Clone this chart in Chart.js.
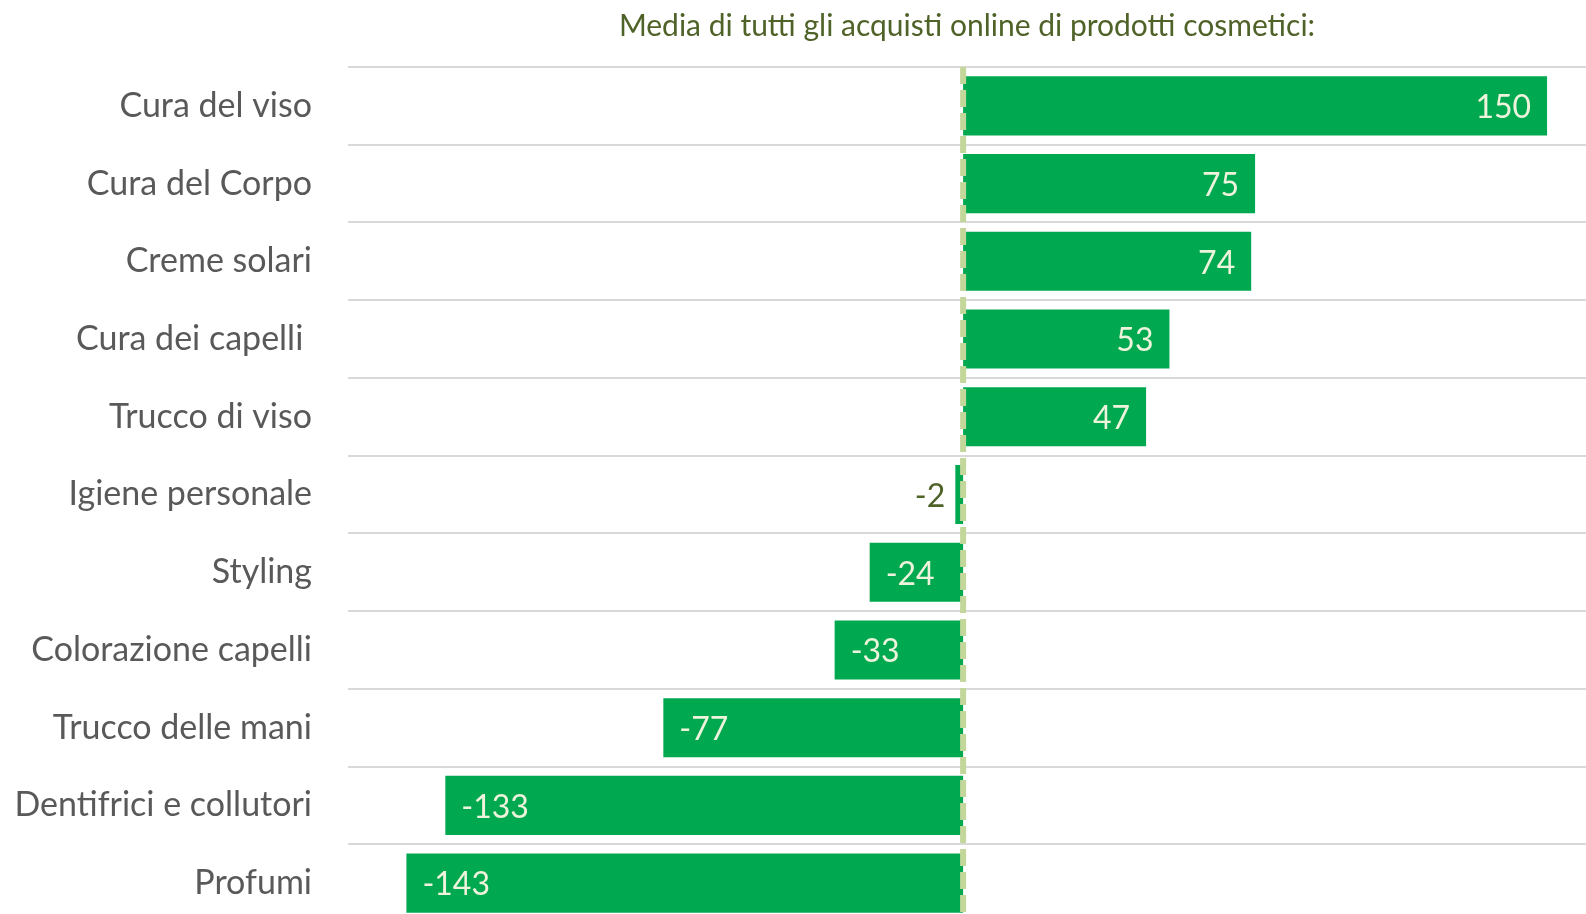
<!DOCTYPE html>
<html>
<head>
<meta charset="utf-8">
<script src="https://cdn.jsdelivr.net/npm/chart.js@4/dist/chart.umd.min.js"></script>
<style>
  html, body { margin: 0; padding: 0; background: #fff; overflow: hidden; }
</style>
</head>
<body>
<canvas id="myChart" width="1586" height="922"></canvas>
<script>
// dati del grafico
var categorie = ["Cura del viso", "Cura del Corpo", "Creme solari", "Cura dei capelli ", "Trucco di viso",
  "Igiene personale", "Styling", "Colorazione capelli", "Trucco delle mani", "Dentifrici e collutori", "Profumi"];
var valori = [150, 75, 74, 53, 47, -2, -24, -33, -77, -133, -143];
var titolo = "Media di tutti gli acquisti online di prodotti cosmetici:";

var verde = "#00a84f";

// etichette con i valori sulle barre
var etichette = {
  id: 'etichette',
  afterDatasetsDraw: function(chart) {
    var ctx = chart.ctx;
    var meta = chart.getDatasetMeta(0);
    ctx.save();
    ctx.font = '32px Lato';
    ctx.textBaseline = 'middle';
    meta.data.forEach(function(bar, i) {
      var v = valori[i];
      var txt = String(v);
      var w = ctx.measureText(txt).width;
      var breed = Math.abs(bar.x - bar.base);
      var pad = 16;
      if (breed < w + pad * 2) {
        // non ci sta: fuori dalla barra
        ctx.fillStyle = '#4f6228';
        if (v < 0) { ctx.textAlign = 'right'; ctx.fillText(txt, Math.min(bar.x, bar.base) - 10, bar.y + 2); }
        else { ctx.textAlign = 'left'; ctx.fillText(txt, Math.max(bar.x, bar.base) + 10, bar.y + 2); }
      } else {
        ctx.fillStyle = '#eef3dc';
        if (v < 0) { ctx.textAlign = 'left'; ctx.fillText(txt, bar.x + pad, bar.y + 2); }
        else { ctx.textAlign = 'right'; ctx.fillText(txt, bar.x - pad, bar.y + 2); }
      }
    });
    ctx.restore();
  }
};

// linea tratteggiata sullo zero
var lineaZero = {
  id: 'lineaZero',
  afterDatasetsDraw: function(chart) {
    var ctx = chart.ctx;
    var x = chart.scales.x.getPixelForValue(0);
    ctx.save();
    ctx.strokeStyle = '#c4d79b';
    ctx.lineWidth = 6;
    ctx.setLineDash([17, 6]);
    ctx.beginPath();
    ctx.moveTo(x, chart.chartArea.top);
    ctx.lineTo(x, chart.chartArea.bottom);
    ctx.stroke();
    ctx.restore();
  }
};

var ctx = document.getElementById("myChart").getContext('2d');
var myChart = new Chart(ctx, {
  type: 'bar',
  data: {
    labels: categorie,
    datasets: [{
      data: valori,
      backgroundColor: verde,
      borderWidth: 0,
      barPercentage: 0.76,
      categoryPercentage: 1
    }]
  },
  options: {
    indexAxis: 'y',
    responsive: false,
    animation: false,
    layout: { padding: 0 },
    plugins: {
      legend: { display: false },
      tooltip: { enabled: false }
    },
    scales: {
      x: {
        position: 'top',
        min: -158,
        max: 160,
        ticks: { display: false },
        grid: { display: false },
        border: { display: false },
        title: {
          display: true,
          text: titolo,
          color: '#4f6228',
          font: { family: 'Lato', size: 30 },
          padding: { top: 8, bottom: 0 }
        },
        afterFit: function(scale) { scale.height = 67; }
      },
      y: {
        ticks: {
          color: '#595959',
          font: { family: 'Lato', size: 34 },
          padding: 36
        },
        grid: {
          offset: true,
          color: '#d9d9d9',
          lineWidth: 2,
          drawTicks: false
        },
        border: { display: false },
        afterFit: function(scale) {
          scale.width = 348;
          scale.paddingTop = 0;
          scale.paddingBottom = 0;
        }
      }
    }
  },
  plugins: [lineaZero, etichette]
});
</script>
</body>
</html>
